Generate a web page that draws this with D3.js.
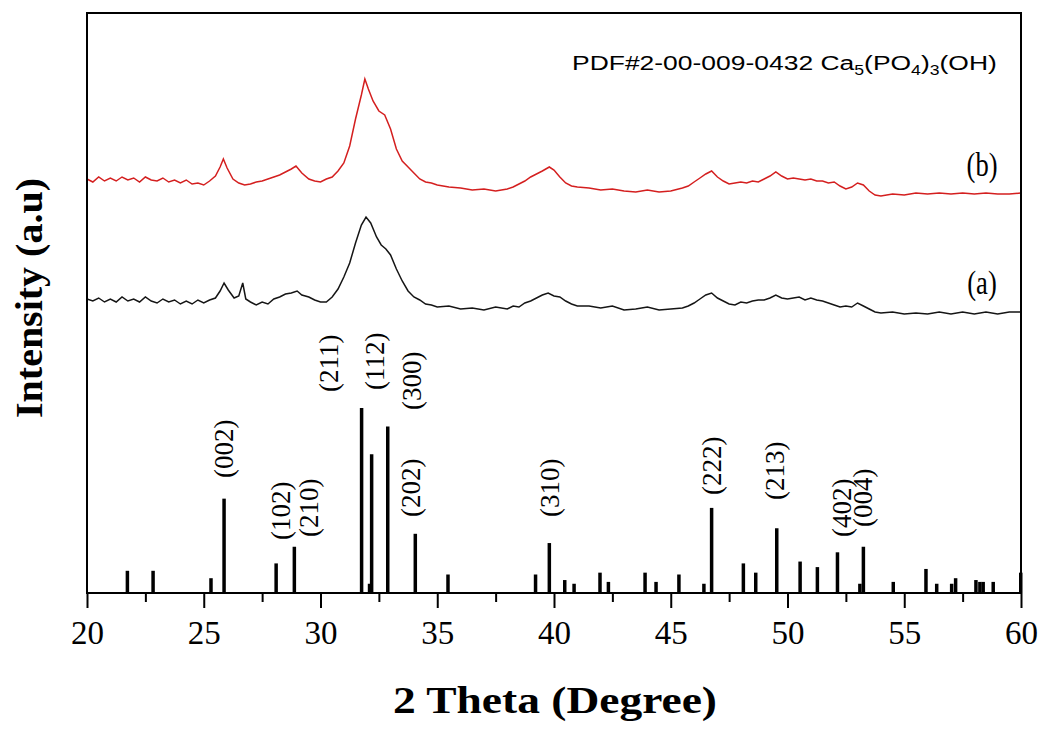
<!DOCTYPE html>
<html lang="en">
<head>
<meta charset="UTF-8">
<title>XRD HAp</title>
<script src="https://cdn.jsdelivr.net/npm/d3@7"></script>
<style>
  body { margin: 0; background: #fff; }
</style>
</head>
<body>
<div class="container"></div>
<script>
// 2 theta ticks
const majorTicks = [20, 25, 30, 35, 40, 45, 50, 55, 60];
const minorTicks = [22.5, 27.5, 32.5, 37.5, 42.5, 47.5, 52.5, 57.5];

// sample (a), black : [2theta, intensity a.u.]
const sampleA = [
  [20.0,294],[20.25,292],[20.5,295],[20.75,291],[21.0,294],[21.25,291],[21.5,296],[21.75,292],
  [22.0,294],[22.25,291],[22.5,296],[22.75,292],[23.0,290],[23.25,294],[23.5,291],[23.75,293],
  [24.0,289],[24.25,292],[24.5,289],[24.75,293],[25.0,290],[25.25,293],[25.5,295],[25.7,302],
  [25.87,310],[26.05,303],[26.3,295],[26.5,297],[26.67,310],[26.8,294],[27.0,291],[27.25,288],
  [27.5,291],[27.75,289],[28.0,294],[28.25,296],[28.5,299],[28.75,300],[29.0,302],[29.2,298],
  [29.5,296],[29.75,293],[30.0,291],[30.25,291],[30.5,296],[30.75,304],[31.0,316],[31.25,330],
  [31.5,350],[31.75,368],[31.95,376],[32.15,370],[32.4,356],[32.6,348],[32.8,344],[33.0,338],
  [33.25,324],[33.5,312],[33.75,302],[34.0,296],[34.25,293],[34.5,289],[34.75,288],[35.0,286],
  [35.5,287],[36.0,284],[36.5,285],[37.0,283],[37.5,286],[38.0,284],[38.25,287],[38.5,286],
  [38.75,290],[39.0,292],[39.25,295],[39.5,298],[39.75,300],[40.0,297],[40.25,296],[40.5,292],
  [40.75,289],[41.0,287],[41.5,287],[42.0,285],[42.5,287],[43.0,283],[43.5,284],[44.0,286],
  [44.5,283],[45.0,284],[45.5,285],[45.75,287],[46.0,290],[46.25,294],[46.5,298],[46.75,300],
  [47.0,295],[47.25,292],[47.5,289],[47.75,288],[48.0,291],[48.25,290],[48.5,292],[48.75,293],
  [49.0,293],[49.25,295],[49.5,298],[49.75,295],[50.0,294],[50.25,295],[50.5,296],[50.75,293],
  [51.0,295],[51.25,293],[51.5,292],[51.75,290],[52.0,288],[52.25,286],[52.5,287],[52.75,286],
  [53.0,290],[53.25,287],[53.5,284],[53.75,281],[54.0,280],[54.5,281],[55.0,279],[55.5,280],
  [56.0,279],[56.5,281],[57.0,279],[57.5,281],[58.0,279],[58.5,281],[59.0,279],[59.5,281],[60.0,281]
];

// sample (b), red
const sampleB = [
  [20.0,414],[20.25,411],[20.5,416],[20.75,412],[21.0,415],[21.25,412],[21.5,416],[21.75,413],
  [22.0,415],[22.25,411],[22.5,416],[22.75,413],[23.0,412],[23.25,415],[23.5,411],[23.75,413],
  [24.0,410],[24.25,413],[24.5,409],[24.75,410],[25.0,408],[25.25,412],[25.5,417],[25.7,426],
  [25.84,434],[26.0,425],[26.25,414],[26.5,410],[26.75,408],[27.0,409],[27.25,411],[27.5,412],
  [27.75,414],[28.0,416],[28.25,418],[28.5,421],[28.75,424],[28.95,427],[29.2,420],[29.5,414],
  [29.75,412],[30.0,411],[30.25,414],[30.5,416],[30.75,422],[31.0,430],[31.25,447],[31.5,474],
  [31.75,498],[31.9,514],[32.05,504],[32.25,492],[32.5,482],[32.75,478],[33.0,464],[33.25,444],
  [33.5,432],[33.75,426],[34.0,420],[34.25,414],[34.5,411],[34.75,410],[35.0,408],[35.5,406],
  [36.0,405],[36.5,403],[37.0,404],[37.5,402],[38.0,404],[38.25,406],[38.5,409],[38.75,412],
  [39.0,416],[39.25,419],[39.5,422],[39.8,426],[40.0,423],[40.25,416],[40.5,410],[40.75,407],
  [41.0,406],[41.5,405],[42.0,403],[42.5,404],[43.0,402],[43.5,401],[44.0,403],[44.5,401],
  [45.0,402],[45.5,405],[45.75,407],[46.0,411],[46.25,415],[46.5,419],[46.75,422],[47.0,416],
  [47.25,412],[47.5,409],[47.75,410],[48.0,411],[48.25,410],[48.5,412],[48.75,411],[49.0,414],
  [49.25,417],[49.5,421],[49.75,417],[50.0,414],[50.25,415],[50.5,414],[50.75,413],[51.0,414],
  [51.25,412],[51.5,412],[51.75,410],[52.0,411],[52.25,407],[52.5,404],[52.75,406],[53.0,410],
  [53.25,408],[53.5,402],[53.75,398],[54.0,397],[54.5,399],[55.0,398],[55.5,400],[56.0,399],
  [56.5,400],[57.0,399],[57.5,400],[58.0,399],[58.5,400],[59.0,399],[59.5,399],[60.0,400]
];

// PDF#09-0432 reference lines : [2theta, relative intensity]
const refLines = [
  [21.73,12],[22.83,12],[25.31,8],[25.87,51],[28.1,16],[28.88,25],[31.76,100],[32.1,5],
  [32.19,75],[32.88,90],[34.06,32],[35.46,10],[39.21,10],[39.8,27],[40.46,7],[40.86,5],
  [41.97,11],[42.33,6],[43.9,11],[44.37,6],[45.35,10],[46.42,5],[46.75,46],[48.11,16],
  [48.64,11],[49.54,35],[50.54,17],[51.28,14],[52.14,22],[53.1,5],[53.25,25],[54.53,6],
  [55.93,13],[56.39,5],[57.03,5],[57.2,8],[58.07,7],[58.24,6],[58.38,6],[58.81,6],[59.99,11]
];

// hkl labels : [hkl, 2theta of label centre, label foot (a.u.)]
const hklLabels = [
  ["(002)", 25.85, 115], ["(102)", 28.28, 53], ["(210)", 29.48, 56],
  ["(211)", 30.34, 201], ["(112)", 32.33, 203], ["(300)", 33.9, 183],
  ["(202)", 33.86, 76], ["(310)", 39.83, 76], ["(222)", 46.75, 98],
  ["(213)", 49.46, 93], ["(402)", 52.32, 56], ["(004)", 53.24, 66]
];

const width = 1043;
const height = 729;
const marginTop = 13;
const marginRight = 22;
const marginBottom = 136;
const marginLeft = 87;

const serif = "'Liberation Serif', 'Times New Roman', serif";

const x = d3.scaleLinear()
  .domain([20, 60])
  .range([marginLeft, width - marginRight]);

const y = d3.scaleLinear()
  .domain([0, 580])
  .range([height - marginBottom, marginTop]);

// reference card lines on their own relative scale
const yRef = d3.scaleLinear()
  .domain([0, 100])
  .range([y(0), y(185)]);

const svg = d3.create("svg")
  .attr("width", width)
  .attr("height", height)
  .attr("viewBox", [0, 0, width, height]);

// curves
const line = d3.line()
  .x(d => x(d[0]))
  .y(d => y(d[1]));

svg.append("path")
  .datum(sampleA)
  .attr("fill", "none")
  .attr("stroke", "#151515")
  .attr("stroke-width", 1.5)
  .attr("d", line);

svg.append("path")
  .datum(sampleB)
  .attr("fill", "none")
  .attr("stroke", "#d41f1f")
  .attr("stroke-width", 1.5)
  .attr("d", line);

// stick pattern
svg.append("g")
  .attr("stroke", "#000")
  .attr("stroke-width", 3.5)
  .selectAll("line")
  .data(refLines)
  .join("line")
    .attr("x1", d => x(d[0]))
    .attr("x2", d => x(d[0]))
    .attr("y1", yRef(0))
    .attr("y2", d => yRef(d[1]));

// hkl labels
svg.append("g")
  .selectAll("text")
  .data(hklLabels)
  .join("text")
    .attr("transform", d => `translate(${x(d[1])},${y(d[2])}) rotate(-90)`)
    .attr("dy", "0.34em")
    .attr("font-family", serif)
    .attr("font-size", 27)
    .attr("fill", "#000")
    .text(d => d[0]);

// sample labels (narrow serif)
svg.append("text")
  .attr("transform", "translate(982,176) scale(0.78,1)")
  .attr("text-anchor", "middle")
  .attr("font-family", serif)
  .attr("font-size", 34)
  .text("(b)");

svg.append("text")
  .attr("transform", "translate(982,294) scale(0.78,1)")
  .attr("text-anchor", "middle")
  .attr("font-family", serif)
  .attr("font-size", 34)
  .text("(a)");

// card label (stretched sans)
const card = svg.append("text")
  .attr("transform", "translate(572,70) scale(1.26,1)")
  .attr("font-family", "'Liberation Sans', Arial, sans-serif")
  .attr("font-size", 21)
  .attr("fill", "#000");
card.append("tspan").text("PDF#2-00-009-0432 Ca");
card.append("tspan").attr("font-size", 14).attr("dy", 5).text("5");
card.append("tspan").attr("dy", -5).text("(PO");
card.append("tspan").attr("font-size", 14).attr("dy", 5).text("4");
card.append("tspan").attr("dy", -5).text(")");
card.append("tspan").attr("font-size", 14).attr("dy", 5).text("3");
card.append("tspan").attr("dy", -5).text("(OH)");

// x axis
svg.append("g")
  .attr("transform", `translate(0,${y(0)})`)
  .call(d3.axisBottom(x).tickValues(minorTicks).tickSize(9).tickFormat(""))
  .call(g => g.select(".domain").remove())
  .call(g => g.selectAll(".tick line").attr("stroke", "#000").attr("stroke-width", 2));

svg.append("g")
  .attr("transform", `translate(0,${y(0)})`)
  .call(d3.axisBottom(x).tickValues(majorTicks).tickSize(15).tickPadding(13).tickFormat(d3.format("d")))
  .call(g => g.select(".domain").remove())
  .call(g => g.selectAll(".tick line").attr("stroke", "#000").attr("stroke-width", 2))
  .call(g => g.selectAll(".tick text")
    .attr("font-family", serif)
    .attr("font-size", 33)
    .attr("fill", "#000"));

// frame
svg.append("rect")
  .attr("x", marginLeft)
  .attr("y", marginTop)
  .attr("width", width - marginLeft - marginRight)
  .attr("height", height - marginTop - marginBottom)
  .attr("fill", "none")
  .attr("stroke", "#000")
  .attr("stroke-width", 2);

// axis titles
svg.append("text")
  .attr("x", 555)
  .attr("y", 713)
  .attr("text-anchor", "middle")
  .attr("font-family", serif)
  .attr("font-weight", "bold")
  .attr("font-size", 38)
  .attr("textLength", 324)
  .attr("lengthAdjust", "spacingAndGlyphs")
  .text("2 Theta (Degree)");

svg.append("text")
  .attr("transform", "translate(42,298) rotate(-90)")
  .attr("text-anchor", "middle")
  .attr("font-family", serif)
  .attr("font-weight", "bold")
  .attr("font-size", 38)
  .attr("textLength", 240)
  .attr("lengthAdjust", "spacingAndGlyphs")
  .text("Intensity (a.u)");

document.querySelector(".container").appendChild(svg.node());
</script>
</body>
</html>
